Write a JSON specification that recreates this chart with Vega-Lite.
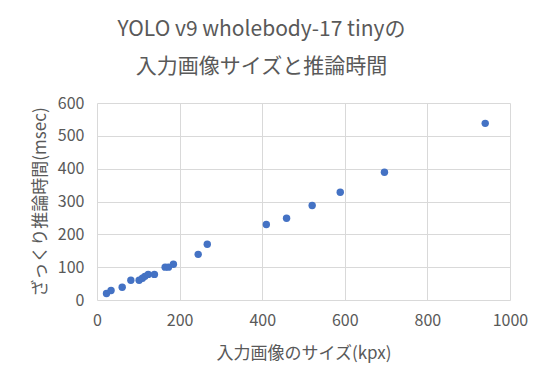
{
  "$schema": "https://vega.github.io/schema/vega-lite/v6.json",
  "autosize": "none",
  "width": 413,
  "height": 197,
  "padding": {"left": 97, "top": 103, "right": 32, "bottom": 86},
  "background": "white",
  "title": {
    "text": ["YOLO v9 wholebody-17 tinyの", "入力画像サイズと推論時間"],
    "anchor": "middle",
    "dx": -42,
    "offset": 18,
    "fontSize": 21,
    "lineHeight": 37,
    "font": "Noto Sans CJK JP",
    "fontWeight": "normal",
    "color": "#595959"
  },
  "config": {
    "font": "Noto Sans CJK JP",
    "view": {"stroke": null},
    "axis": {
      "domain": false,
      "ticks": false,
      "grid": true,
      "gridColor": "#D9D9D9",
      "gridWidth": 1,
      "labelColor": "#595959",
      "labelFontSize": 16,
      "labelFont": "Noto Sans CJK JP",
      "titleColor": "#595959",
      "titleFontSize": 17,
      "titleFontWeight": "normal",
      "titleFont": "Noto Sans CJK JP"
    }
  },
  "data": {
    "values": [
      {"px": 23, "ms": 20},
      {"px": 34, "ms": 29},
      {"px": 61, "ms": 39},
      {"px": 82, "ms": 60},
      {"px": 102, "ms": 60},
      {"px": 110, "ms": 66},
      {"px": 116, "ms": 72},
      {"px": 124, "ms": 78},
      {"px": 139, "ms": 78},
      {"px": 165, "ms": 100},
      {"px": 173, "ms": 100},
      {"px": 185, "ms": 109},
      {"px": 245, "ms": 139},
      {"px": 267, "ms": 170},
      {"px": 410, "ms": 230},
      {"px": 459, "ms": 249},
      {"px": 521, "ms": 288},
      {"px": 589, "ms": 328},
      {"px": 696, "ms": 389},
      {"px": 940, "ms": 538}
    ]
  },
  "mark": {"type": "point", "filled": true, "opacity": 1, "size": 55, "color": "#4472C4"},
  "encoding": {
    "x": {
      "field": "px",
      "type": "quantitative",
      "scale": {"domain": [0, 1000], "nice": false},
      "axis": {"values": [0, 200, 400, 600, 800, 1000], "format": "d", "title": "入力画像のサイズ(kpx)", "labelPadding": 12, "titlePadding": 17, "labelFlush": false}
    },
    "y": {
      "field": "ms",
      "type": "quantitative",
      "scale": {"domain": [0, 600], "nice": false},
      "axis": {"values": [0, 100, 200, 300, 400, 500, 600], "format": "d", "title": "ざっくり推論時間(msec)", "labelPadding": 13, "titlePadding": 8}
    }
  }
}
